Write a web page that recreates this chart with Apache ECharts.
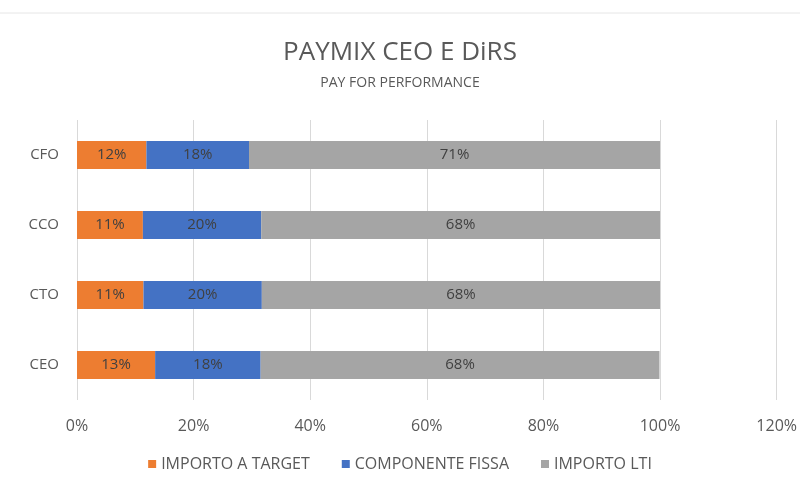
<!DOCTYPE html>
<html>
<head>
<meta charset="utf-8">
<script src="https://cdn.jsdelivr.net/npm/echarts@6/dist/echarts.min.js"></script>
<style>
  html, body { margin: 0; padding: 0; background: #fff; }
  #chart { width: 800px; height: 479px; }
</style>
</head>
<body>
<div id="chart"></div>
<script>
// roles, bottom to top
const roles = ['CEO', 'CTO', 'CCO', 'CFO'];
const seriesNames = ['IMPORTO A TARGET', 'COMPONENTE FISSA', 'IMPORTO LTI'];
const importoTarget = [13.4, 11.4, 11.3, 11.9];
const componenteFissa = [18.1, 20.3, 20.3, 17.6];
const importoLti = [68.4, 68.3, 68.4, 70.5];
const xTicks = [0, 20, 40, 60, 80, 100, 120];

const font = "'Open Sans', sans-serif";
const colors = ['#ED7D31', '#4472C4', '#A5A5A5'];
const dataSets = [importoTarget, componenteFissa, importoLti];

let chart = echarts.init(document.getElementById('chart'));

let series = [];
for (let i = 0; i < seriesNames.length; i++) {
    series.push({
        name: seriesNames[i],
        type: 'bar',
        stack: 'mix',
        barWidth: 28,
        data: dataSets[i],
        itemStyle: { color: colors[i] },
        label: {
            show: true,
            position: 'inside',
            color: '#404040',
            fontFamily: font,
            fontSize: 15,
            formatter: p => Math.round(p.value) + '%'
        }
    });
}

chart.setOption({
    title: {
        text: 'PAYMIX CEO E DiRS',
        subtext: 'PAY FOR PERFORMANCE',
        left: 'center',
        top: 35,
        itemGap: 10,
        textStyle: { fontFamily: font, fontSize: 26, fontWeight: 'normal', color: '#595959' },
        subtextStyle: { fontFamily: font, fontSize: 14, color: '#595959' }
    },
    legend: {
        bottom: 2,
        left: 'center',
        itemWidth: 8,
        itemHeight: 8,
        itemGap: 32,
        icon: 'rect',
        textStyle: { fontFamily: font, fontSize: 16, color: '#595959' },
        data: seriesNames
    },
    grid: { left: 77, right: 20, top: 120, bottom: 79, containLabel: false },
    xAxis: {
        type: 'value',
        min: 0,
        max: 120,
        interval: 20,
        axisLine: { show: false },
        axisTick: { show: false },
        splitLine: { lineStyle: { color: '#d9d9d9' } },
        axisLabel: {
            fontFamily: font, fontSize: 16, color: '#595959', margin: 18,
            formatter: v => xTicks.indexOf(v) >= 0 ? v + '%' : ''
        }
    },
    yAxis: {
        type: 'category',
        data: roles,
        axisLine: { show: false },
        axisTick: { show: false },
        axisLabel: { fontFamily: font, fontSize: 15, color: '#595959', margin: 18 }
    },
    graphic: [{
        type: 'line',
        shape: { x1: 0, y1: 13, x2: 800, y2: 13 },
        style: { stroke: '#e6e6e6', lineWidth: 1 }
    }],
    series: series
});
</script>
</body>
</html>
